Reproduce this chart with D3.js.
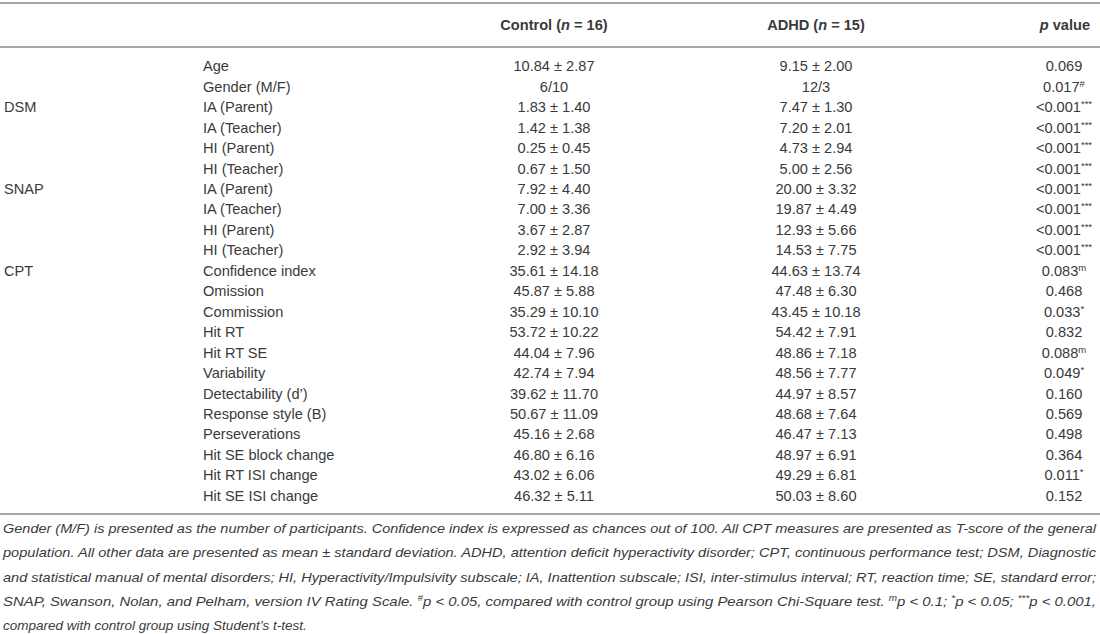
<!DOCTYPE html>
<html>
<head>
<meta charset="utf-8">
<script src="https://cdn.jsdelivr.net/npm/d3@7"></script>
<style>
  body { margin: 0; background: #fff; }
  svg { display: block; }
</style>
</head>
<body>
<div id="table"></div>
<script>
// table contents
const groups = ["", "", "DSM", "", "", "", "SNAP", "", "", "", "CPT", "", "", "", "", "", "", "", "", "", "", ""];
const measures = [
  "Age", "Gender (M/F)",
  "IA (Parent)", "IA (Teacher)", "HI (Parent)", "HI (Teacher)",
  "IA (Parent)", "IA (Teacher)", "HI (Parent)", "HI (Teacher)",
  "Confidence index", "Omission", "Commission", "Hit RT", "Hit RT SE", "Variability",
  "Detectability (d\u2019)", "Response style (B)", "Perseverations",
  "Hit SE block change", "Hit RT ISI change", "Hit SE ISI change"
];
const controlVals = [
  "10.84 \u00b1 2.87", "6/10",
  "1.83 \u00b1 1.40", "1.42 \u00b1 1.38", "0.25 \u00b1 0.45", "0.67 \u00b1 1.50",
  "7.92 \u00b1 4.40", "7.00 \u00b1 3.36", "3.67 \u00b1 2.87", "2.92 \u00b1 3.94",
  "35.61 \u00b1 14.18", "45.87 \u00b1 5.88", "35.29 \u00b1 10.10", "53.72 \u00b1 10.22",
  "44.04 \u00b1 7.96", "42.74 \u00b1 7.94", "39.62 \u00b1 11.70", "50.67 \u00b1 11.09",
  "45.16 \u00b1 2.68", "46.80 \u00b1 6.16", "43.02 \u00b1 6.06", "46.32 \u00b1 5.11"
];
const adhdVals = [
  "9.15 \u00b1 2.00", "12/3",
  "7.47 \u00b1 1.30", "7.20 \u00b1 2.01", "4.73 \u00b1 2.94", "5.00 \u00b1 2.56",
  "20.00 \u00b1 3.32", "19.87 \u00b1 4.49", "12.93 \u00b1 5.66", "14.53 \u00b1 7.75",
  "44.63 \u00b1 13.74", "47.48 \u00b1 6.30", "43.45 \u00b1 10.18", "54.42 \u00b1 7.91",
  "48.86 \u00b1 7.18", "48.56 \u00b1 7.77", "44.97 \u00b1 8.57", "48.68 \u00b1 7.64",
  "46.47 \u00b1 7.13", "48.97 \u00b1 6.91", "49.29 \u00b1 6.81", "50.03 \u00b1 8.60"
];
const pVals = [
  "0.069", "0.017",
  "<0.001", "<0.001", "<0.001", "<0.001",
  "<0.001", "<0.001", "<0.001", "<0.001",
  "0.083", "0.468", "0.033", "0.832", "0.088", "0.049",
  "0.160", "0.569", "0.498", "0.364", "0.011", "0.152"
];
const pMarks = [
  "", "#",
  "***", "***", "***", "***",
  "***", "***", "***", "***",
  "m", "", "*", "", "m", "*",
  "", "", "", "", "*", ""
];
const footLines = [
  [["Gender (M/F) is presented as the number of participants. Confidence index is expressed as chances out of 100. All CPT measures are presented as T-score of the general"]],
  [["population. All other data are presented as mean \u00b1 standard deviation. ADHD, attention deficit hyperactivity disorder; CPT, continuous performance test; DSM, Diagnostic"]],
  [["and statistical manual of mental disorders; HI, Hyperactivity/Impulsivity subscale; IA, Inattention subscale; ISI, inter-stimulus interval; RT, reaction time; SE, standard error;"]],
  [["SNAP, Swanson, Nolan, and Pelham, version IV Rating Scale. "], ["#", 1], ["p < 0.05, compared with control group using Pearson Chi-Square test. "], ["m", 1],
   ["p < 0.1; "], ["*", 1], ["p < 0.05; "], ["***", 1], ["p < 0.001,"]],
  [["compared with control group using Student\u2019s t-test."]]
];

const width = 1100, height = 634;
const ink = "#3a3a3a", rule = "#8a8a8a";
const font = "'Liberation Sans', Arial, Helvetica, sans-serif";

const svg = d3.select("#table").append("svg")
  .attr("width", width).attr("height", height)
  .style("font-family", font);

const y = d3.scaleBand()
  .domain(d3.range(measures.length))
  .range([56, 506]);

const col = { group: 4, measure: 203, control: 554, adhd: 816, p: 1064 };

// rules
[3, 47, 514].forEach(ry => {
  svg.append("line")
    .attr("x1", 0).attr("x2", width)
    .attr("y1", ry).attr("y2", ry)
    .attr("stroke", rule).attr("stroke-width", 1.4);
});

// header
const head = svg.append("g")
  .attr("font-size", 14.6).attr("font-weight", "bold").attr("fill", ink);
const h1 = head.append("text").attr("x", col.control).attr("y", 30).attr("text-anchor", "middle");
h1.append("tspan").text("Control (");
h1.append("tspan").attr("font-style", "italic").text("n");
h1.append("tspan").text(" = 16)");
const h2 = head.append("text").attr("x", col.adhd).attr("y", 30).attr("text-anchor", "middle");
h2.append("tspan").text("ADHD (");
h2.append("tspan").attr("font-style", "italic").text("n");
h2.append("tspan").text(" = 15)");
const h3 = head.append("text").attr("x", 1090).attr("y", 30).attr("text-anchor", "end");
h3.append("tspan").attr("font-style", "italic").text("p");
h3.append("tspan").text(" value");

// body rows
const rows = svg.append("g").attr("font-size", 14.6).attr("fill", ink)
  .selectAll("g").data(measures).join("g")
  .attr("transform", (d, i) => `translate(0,${y(i) + y.bandwidth() / 2 + 5})`);

rows.append("text").attr("x", col.group).text((d, i) => groups[i]);
rows.append("text").attr("x", col.measure).text(d => d);
rows.append("text").attr("x", col.control).attr("text-anchor", "middle").text((d, i) => controlVals[i]);
rows.append("text").attr("x", col.adhd).attr("text-anchor", "middle").text((d, i) => adhdVals[i]);

const pt = rows.append("text").attr("x", col.p).attr("text-anchor", "middle");
pt.append("tspan").text((d, i) => pVals[i]);
pt.append("tspan")
  .attr("font-size", 9.5).attr("dy", -5)
  .text((d, i) => pMarks[i]);

// footnote, justified except the last line
const foot = svg.append("g")
  .attr("font-size", 13.5).attr("font-style", "italic").attr("fill", ink)
  .style("font-family", "'Liberation Sans Narrow', 'Arial Narrow', " + font);

const footY = d3.scaleLinear().domain([0, 4]).range([533, 630]);
const fullW = 1093;
footLines.forEach((parts, i) => {
  const t = foot.append("text").attr("x", 3).attr("y", footY(i));
  let raised = false;
  parts.forEach(([s, sup]) => {
    const sp = t.append("tspan").text(s);
    if (sup) { sp.attr("font-size", 9).attr("dy", -5); raised = true; }
    else if (raised) { sp.attr("dy", 5); raised = false; }
  });
  if (i < footLines.length - 1) {
    t.attr("textLength", fullW).attr("lengthAdjust", "spacingAndGlyphs");
  }
});
</script>
</body>
</html>
